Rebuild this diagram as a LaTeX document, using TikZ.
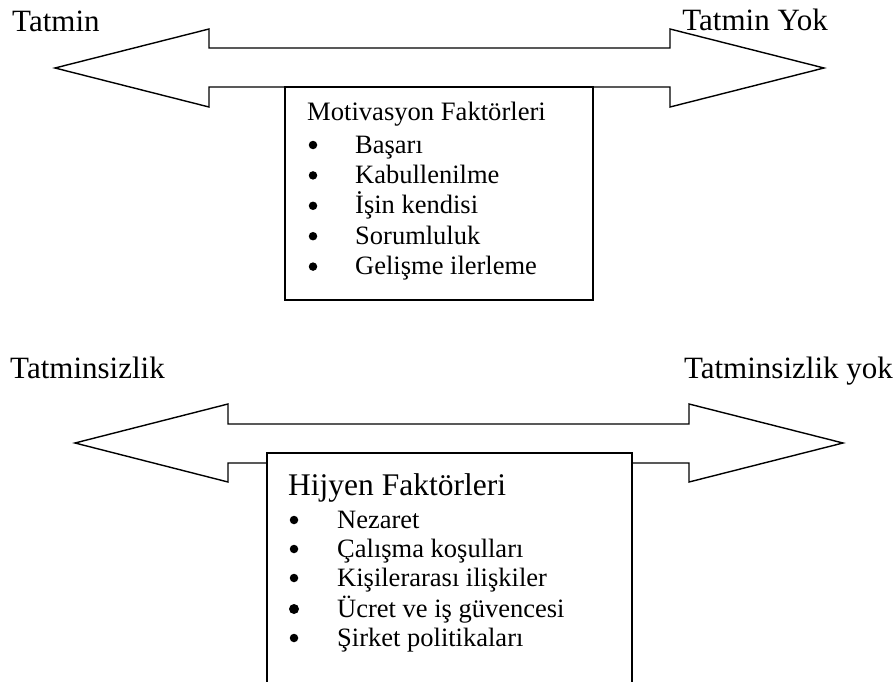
\documentclass[tikz,border=0pt]{standalone}
\usepackage{fontspec}
\setmainfont{Liberation Serif}
\tikzset{
  outline/.style={draw=black, line width=1.4pt, line join=miter},
  lbl/.style={inner sep=0pt, anchor=base west, font=\fontsize{31}{34}\selectfont},
  lblr/.style={lbl, anchor=base east},
  head/.style={inner sep=0pt, anchor=base west},
  bul/.style={circle, fill=black, inner sep=0pt, minimum size=8.5pt},
  item/.style={inner sep=0pt, anchor=base west, font=\fontsize{26.5}{29}\selectfont}
}
\begin{document}
\begin{tikzpicture}[x=1pt, y=-1pt]
\useasboundingbox[fill=white] (0,0) rectangle (896,682);

% upper double arrow
\draw[outline, fill=white] (55,68) -- (209,29) -- (209,48) -- (670,48) -- (670,29)
  -- (824,68) -- (670,107) -- (670,87) -- (209,87) -- (209,107) -- cycle;
% motivation box
\draw[outline, fill=white] (285,87) rectangle (593,300);

\node[lbl]  (tatmin)   at (12,32)  {Tatmin};
\node[lblr] (tatminyok) at (828,31) {Tatmin Yok};

\node[head, font=\fontsize{26.6}{29}\selectfont] (mot) at (307,121) {Motivasyon Faktörleri};
\foreach \t [count=\i] in {Başarı, Kabullenilme, İşin kendisi, Sorumluluk, Gelişme ilerleme} {
  \pgfmathsetmacro{\yy}{153+30.4*(\i-1)}
  \node[bul]  (mb\i) at (313,\yy-8) {};
  \node[item] (mi\i) at (355,\yy) {\t};
}

% lower double arrow
\draw[outline, fill=white] (75,443) -- (228,404) -- (228,424) -- (689,424) -- (689,404)
  -- (843,443) -- (689,482) -- (689,463) -- (228,463) -- (228,482) -- cycle;
% hygiene box, running off the page
\fill[white] (267,453) rectangle (632,682);
\draw[outline] (267,690) -- (267,453) -- (632,453) -- (632,690);

\node[lbl]  (tsiz)    at (10,378)  {Tatminsizlik};
\node[lblr] (tsizyok) at (893,378) {Tatminsizlik yok};

\node[head, font=\fontsize{31.5}{34}\selectfont] (hij) at (288,495) {Hijyen Faktörleri};
\foreach \t/\yy/\bs in {Nezaret/528/8.5, Çalışma koşulları/557/8.5, Kişilerarası ilişkiler/586/8.5,
                    Ücret ve iş güvencesi/617/10, Şirket politikaları/646/8.5} {
  \node[bul, minimum size=\bs pt] (hb\yy) at (294,\yy-8) {};
  \node[item] (hi\yy) at (337,\yy) {\t};
}
\end{tikzpicture}
\end{document}
